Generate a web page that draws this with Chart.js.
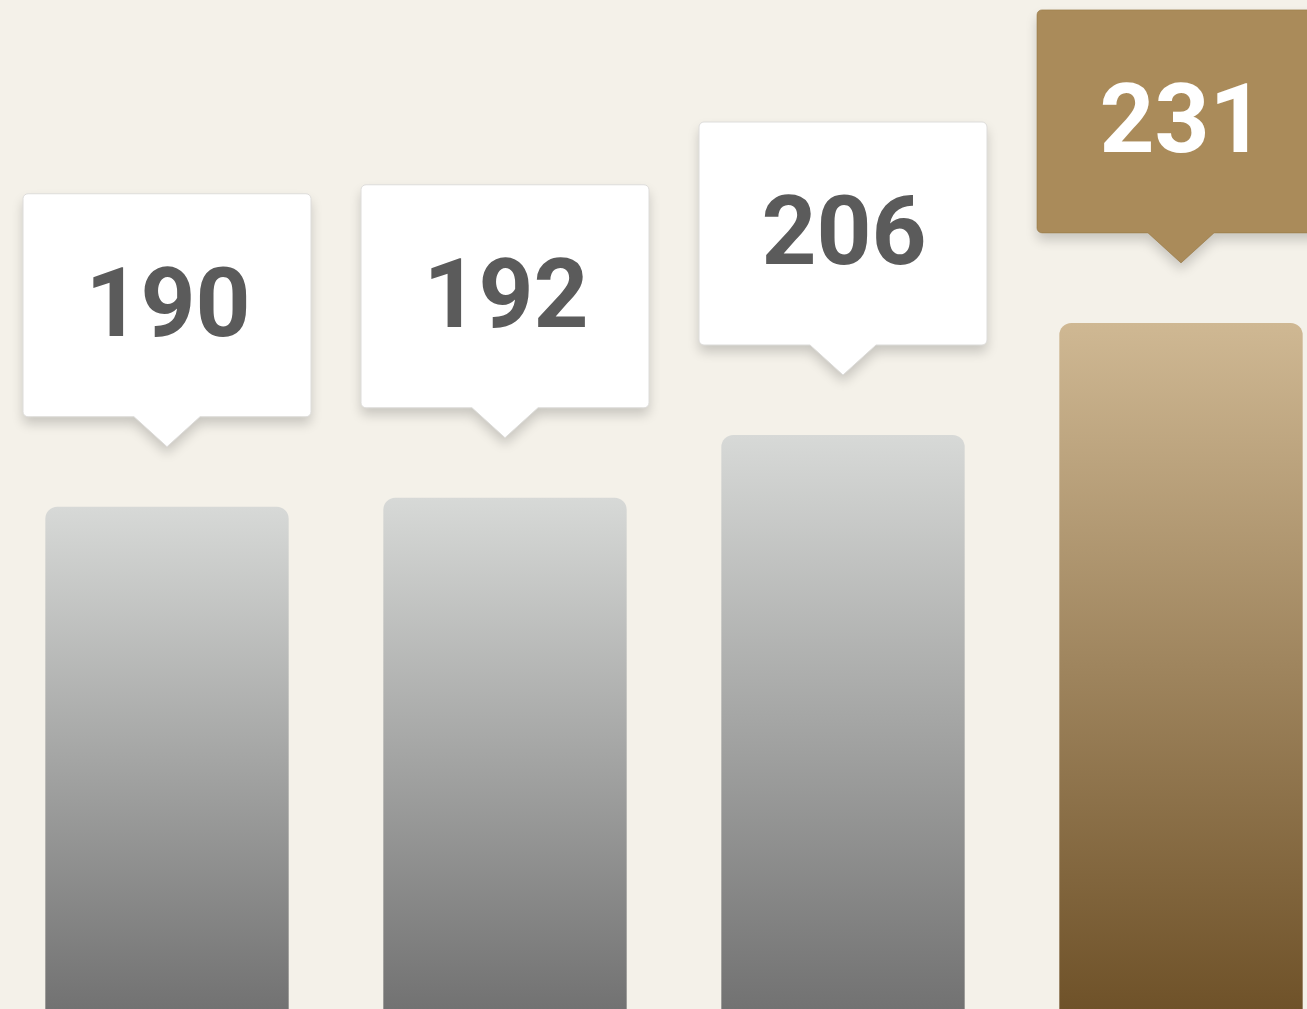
<!DOCTYPE html>
<html>
<head>
<meta charset="utf-8">
<script src="https://cdn.jsdelivr.net/npm/chart.js@4"></script>
<style>
  html, body { margin: 0; padding: 0; background: #f4f1e9; overflow: hidden; }
  #wrap { width: 1307px; height: 1009px; overflow: hidden; position: relative; }
  canvas { position: absolute; left: -2px; top: 0; }
</style>
</head>
<body>
<div id="wrap"><canvas id="chart" width="1352" height="1009"></canvas></div>
<script>
const categories = ['A', 'B', 'C', 'D'];
const values = [190, 192, 206, 231];

const highlight = values.indexOf(Math.max(...values));

function barFill(context) {
    const chart = context.chart;
    const area = chart.chartArea;
    if (!area) return '#aaa';
    const top = chart.scales.y.getPixelForValue(context.raw);
    const g = chart.ctx.createLinearGradient(0, top, 0, area.bottom);
    if (context.dataIndex === highlight) {
        g.addColorStop(0, '#cfb893');
        g.addColorStop(1, '#6f5229');
    } else {
        g.addColorStop(0, '#d7d9d7');
        g.addColorStop(1, '#727272');
    }
    return g;
}

const calloutPlugin = {
    id: 'callouts',
    afterDatasetsDraw(chart) {
        const ctx = chart.ctx;
        const meta = chart.getDatasetMeta(0);
        const w = 288, h = 223, tipW = 33, tipH = 30, gap = 60, r = 5;
        meta.data.forEach((bar, i) => {
            const cx = bar.x;
            const tipY = bar.y - gap;
            const bottom = tipY - tipH;
            const top = bottom - h;
            const left = cx - w / 2, right = cx + w / 2;
            const hot = i === highlight;

            ctx.save();
            ctx.beginPath();
            ctx.moveTo(left + r, top);
            ctx.lineTo(right - r, top);
            ctx.arcTo(right, top, right, top + r, r);
            ctx.lineTo(right, bottom - r);
            ctx.arcTo(right, bottom, right - r, bottom, r);
            ctx.lineTo(cx + tipW, bottom);
            ctx.lineTo(cx, tipY);
            ctx.lineTo(cx - tipW, bottom);
            ctx.lineTo(left + r, bottom);
            ctx.arcTo(left, bottom, left, bottom - r, r);
            ctx.lineTo(left, top + r);
            ctx.arcTo(left, top, left + r, top, r);
            ctx.closePath();
            ctx.shadowColor = 'rgba(0,0,0,0.18)';
            ctx.shadowBlur = 12;
            ctx.shadowOffsetY = 7;
            ctx.fillStyle = hot ? '#aa8b5a' : '#ffffff';
            ctx.fill();
            ctx.shadowColor = 'transparent';
            ctx.lineWidth = 1;
            ctx.strokeStyle = hot ? 'rgba(150,120,70,0.6)' : '#dddcda';
            ctx.stroke();

            // label, cap height sits a little above the box centre
            ctx.fillStyle = hot ? '#ffffff' : '#5b5b5b';
            ctx.font = 'bold 96px Roboto, "Noto Sans", sans-serif';
            ctx.textAlign = 'center';
            ctx.textBaseline = 'alphabetic';
            ctx.fillText(String(values[i]), cx + 1, top + h / 2 + 31);
            ctx.restore();
        });
    }
};

new Chart(document.getElementById('chart'), {
    type: 'bar',
    data: {
        labels: categories,
        datasets: [{
            data: values,
            backgroundColor: barFill,
            borderRadius: { topLeft: 12, topRight: 12, bottomLeft: 0, bottomRight: 0 },
            borderSkipped: 'bottom',
            categoryPercentage: 1,
            barPercentage: 0.72
        }]
    },
    options: {
        responsive: false,
        animation: false,
        layout: { padding: 0 },
        plugins: { legend: { display: false }, tooltip: { enabled: false } },
        scales: {
            x: { display: false },
            y: { display: false, min: 78, max: 303 }
        }
    },
    plugins: [calloutPlugin]
});
</script>
</body>
</html>
